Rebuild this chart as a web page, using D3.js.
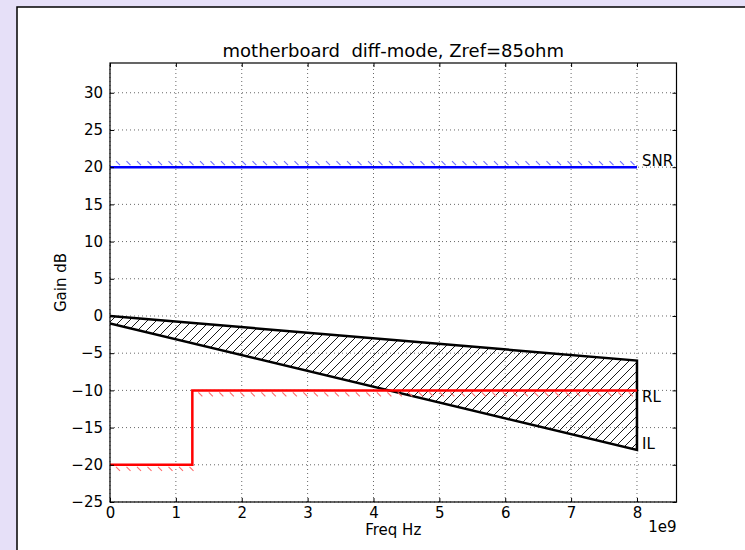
<!DOCTYPE html>
<html>
<head>
<meta charset="utf-8">
<script src="https://cdn.jsdelivr.net/npm/d3@7"></script>
<style>
  html, body { margin: 0; padding: 0; background: #e6e0f8; }
  svg { display: block; font-family: "DejaVu Sans", sans-serif; }
</style>
</head>
<body>
<script>
// Chart data
const freqTicks = [0, 1, 2, 3, 4, 5, 6, 7, 8];           // x ticks, units of 1e9 Hz
const gainTicks = [-25, -20, -15, -10, -5, 0, 5, 10, 15, 20, 25, 30];

const snrFreq = [0, 8e9];
const snrGain = [20, 20];

const rlFreq = [0, 1.25e9, 1.25e9, 8e9];
const rlGain = [-20, -20, -10, -10];

const ilFreq  = [0, 8e9];
const ilUpper = [0, -6];
const ilLower = [-1, -18];

const W = 745, H = 550;
const margin = { left: 110, top: 63, right: 745 - 676.5, bottom: 550 - 502 };
const FS = 15;

const svg = d3.select("body").append("svg").attr("width", W).attr("height", H);

// figure panel
svg.append("rect").attr("x", 17).attr("y", 7).attr("width", 800).attr("height", 600)
  .attr("fill", "#fff").attr("stroke", "#000").attr("stroke-width", 1.5);

const x = d3.scaleLinear().domain([0, 8.6e9]).range([margin.left, W - margin.right]);
const y = d3.scaleLinear().domain([-25, 34]).range([H - margin.bottom, margin.top]);

const defs = svg.append("defs");
defs.append("clipPath").attr("id", "plotclip").append("rect")
  .attr("x", x.range()[0]).attr("y", y.range()[1])
  .attr("width", x.range()[1] - x.range()[0]).attr("height", y.range()[0] - y.range()[1]);

const hatch = defs.append("pattern").attr("id", "hatch")
  .attr("patternUnits", "userSpaceOnUse").attr("width", 9).attr("height", 9);
hatch.append("path").attr("d", "M-1,1 L1,-1 M0,9 L9,0 M8,10 L10,8")
  .attr("stroke", "#000").attr("stroke-width", 0.9);

// grid
const grid = svg.append("g");
grid.selectAll("line.vx").data(freqTicks).join("line")
  .attr("x1", d => x(d * 1e9)).attr("x2", d => x(d * 1e9))
  .attr("y1", y.range()[0]).attr("y2", y.range()[1])
  .attr("stroke", "#000").attr("stroke-width", 0.6).attr("stroke-dasharray", "1,3");
grid.selectAll("line.hy").data(gainTicks).join("line")
  .attr("y1", d => y(d)).attr("y2", d => y(d))
  .attr("x1", x.range()[0]).attr("x2", x.range()[1])
  .attr("stroke", "#000").attr("stroke-width", 0.6).attr("stroke-dasharray", "1,3");

const plot = svg.append("g").attr("clip-path", "url(#plotclip)");

// IL band: hatched region between upper and lower limits
const band = ilFreq.map((f, i) => [f, ilUpper[i], ilLower[i]]);
const area = d3.area().x(d => x(d[0])).y0(d => y(d[2])).y1(d => y(d[1]));
plot.append("path").datum(band).attr("d", area).attr("fill", "url(#hatch)");
const outline = [[ilFreq[0], ilUpper[0]], [ilFreq[1], ilUpper[1]], [ilFreq[1], ilLower[1]], [ilFreq[0], ilLower[0]]];
plot.append("path")
  .attr("d", d3.line().x(d => x(d[0])).y(d => y(d[1]))(outline))
  .attr("fill", "none").attr("stroke", "#000").attr("stroke-width", 2.5).attr("stroke-linejoin", "miter");

// ticked strokes along the limit lines: "\" marks above (side -1) or below (side 1)
function tickMarks(segX0, segX1, yPix, side, color) {
  const px = d3.range(x(segX0) + 6, x(segX1) - 2, 10.5);
  const yA = side < 0 ? yPix - 6 : yPix + 2;
  const yB = side < 0 ? yPix - 2 : yPix + 6;
  plot.append("g").selectAll("line").data(px).join("line")
    .attr("x1", d => d).attr("x2", d => d + 4)
    .attr("y1", yA).attr("y2", yB)
    .attr("stroke", color).attr("stroke-width", 1.1);
}
tickMarks(snrFreq[0], snrFreq[1], y(snrGain[0]), -1, "#6b6bff");
tickMarks(rlFreq[0], rlFreq[1], y(rlGain[0]), 1, "#ff6b6b");
tickMarks(rlFreq[2], rlFreq[3], y(rlGain[2]), 1, "#ff6b6b");

const line = d3.line().x(d => x(d[0])).y(d => y(d[1]));
plot.append("path").datum(snrFreq.map((f, i) => [f, snrGain[i]])).attr("d", line)
  .attr("fill", "none").attr("stroke", "#0000ff").attr("stroke-width", 2.5);
plot.append("path").datum(rlFreq.map((f, i) => [f, rlGain[i]])).attr("d", line)
  .attr("fill", "none").attr("stroke", "#ff0000").attr("stroke-width", 2.5);

// axes frame and inward ticks
const [x0, x1] = x.range(), [yb, yt] = y.range();
svg.append("rect").attr("x", x0).attr("y", yt).attr("width", x1 - x0).attr("height", yb - yt)
  .attr("fill", "none").attr("stroke", "#000").attr("stroke-width", 1.2);

const axB = d3.axisBottom(x).tickValues(freqTicks.map(d => d * 1e9)).tickFormat(d => d / 1e9)
  .tickSizeInner(-4).tickSizeOuter(0).tickPadding(5);
const axT = d3.axisTop(x).tickValues(freqTicks.map(d => d * 1e9)).tickFormat("").tickSizeInner(-4).tickSizeOuter(0);
const axL = d3.axisLeft(y).tickValues(gainTicks).tickFormat(d => d < 0 ? "\u2212" + Math.abs(d) : d)
  .tickSizeInner(-4).tickSizeOuter(0).tickPadding(7);
const axR = d3.axisRight(y).tickValues(gainTicks).tickFormat("").tickSizeInner(-4).tickSizeOuter(0);

function styleAxis(g) {
  g.select(".domain").remove();
  g.selectAll("line").attr("stroke", "#000").attr("stroke-width", 1);
  g.selectAll("text").attr("fill", "#000").attr("font-size", FS).attr("font-family", "DejaVu Sans");
}
svg.append("g").attr("transform", `translate(0,${yb})`).call(axB).call(styleAxis);
svg.append("g").attr("transform", `translate(0,${yt})`).call(axT).call(styleAxis);
svg.append("g").attr("transform", `translate(${x0},0)`).call(axL).call(styleAxis);
svg.append("g").attr("transform", `translate(${x1},0)`).call(axR).call(styleAxis);

// curve labels
const lab = svg.append("g").attr("font-size", FS).attr("fill", "#000");
lab.append("text").attr("x", x(8e9) + 5).attr("y", y(20) - 1).text("SNR");
lab.append("text").attr("x", x(8e9) + 5).attr("y", y(-10) + 11.5).text("RL");
lab.append("text").attr("x", x(8e9) + 5).attr("y", y(-18) - 0.5).text("IL");

// titles
svg.append("text").attr("x", (x0 + x1) / 2).attr("y", 57).attr("text-anchor", "middle")
  .attr("font-size", 18).attr("xml:space", "preserve").style("white-space", "pre")
  .text("motherboard  diff-mode, Zref=85ohm");
svg.append("text").attr("x", (x0 + x1) / 2).attr("y", 535).attr("text-anchor", "middle")
  .attr("font-size", FS).text("Freq Hz");
svg.append("text").attr("x", x1).attr("y", 532).attr("text-anchor", "end")
  .attr("font-size", FS).text("1e9");
svg.append("text").attr("transform", `translate(66,${(yb + yt) / 2}) rotate(-90)`)
  .attr("text-anchor", "middle").attr("font-size", FS).text("Gain dB");
</script>
</body>
</html>
